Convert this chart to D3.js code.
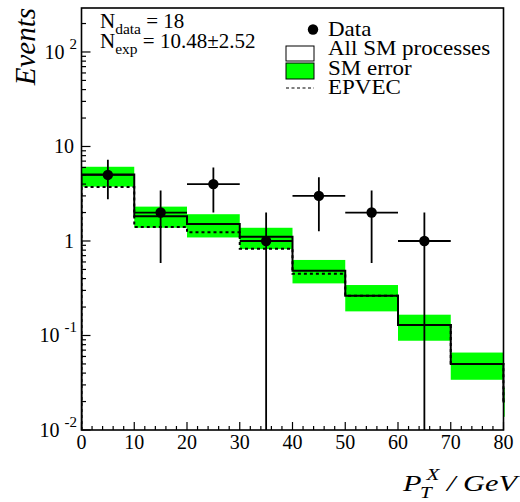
<!DOCTYPE html>
<html>
<head>
<meta charset="utf-8">
<script src="https://cdn.jsdelivr.net/npm/d3@7"></script>
<style>
  html, body { margin: 0; padding: 0; background: #fff; }
  svg { display: block; }
  text { font-family: "Liberation Serif", "Times New Roman", serif; fill: #000; }
</style>
</head>
<body>
<div id="chart"></div>
<script>
// ---- data ----
const binEdges     = [0, 10, 20, 30, 40, 50, 60, 70, 80, 90];
const smValues     = [5.05, 1.83, 1.51, 1.11, 0.485, 0.264, 0.129, 0.050, 0.020];
const smErrLow     = [3.76, 1.38, 1.09, 0.82, 0.356, 0.180, 0.088, 0.034, 0.0138];
const smErrHigh    = [6.10, 2.31, 1.92, 1.38, 0.630, 0.342, 0.166, 0.066, 0.028];
const epvecValues  = [3.72, 1.41, 1.24, 0.83, 0.450, 0.264, 0.129, 0.050, 0.020];
const dataX        = [5, 15, 25, 35, 45, 55, 65];
const dataY        = [5, 2, 4, 1, 3, 2, 1];
const dataXErr     = [5, 5, 5, 5, 5, 5, 5];
const xTickValues  = [0, 10, 20, 30, 40, 50, 60, 70, 80];
const yMajorTicks  = [0.01, 0.1, 1, 10, 100];
const yTickLabels  = [["10", "-2"], ["10", "-1"], ["1", ""], ["10", ""], ["10", "2"]];
const legendLabels = ["Data", "All SM processes", "SM error", "EPVEC"];
const infoLines    = [["N", "data", " = 18"], ["N", "exp", " = 10.48\u00B12.52"]];

const W = 520, H = 502;
const L = 81.5, R = 503.5, T = 8, B = 430;
const xDomain = [0, 80], yDomain = [0.01, 292];

const svg = d3.select("#chart").append("svg").attr("width", W).attr("height", H);
const x = d3.scaleLinear().domain(xDomain).range([L, R]);
const y = d3.scaleLog().domain(yDomain).range([B, T]);

svg.append("defs").append("clipPath").attr("id", "frameClip")
  .append("rect").attr("x", L).attr("y", T).attr("width", R - L + 1.2).attr("height", B - T);

const plot = svg.append("g").attr("clip-path", "url(#frameClip)");
const nb = smValues.length;
const bins = d3.range(nb).map(i => ({
  x0: binEdges[i], x1: binEdges[i + 1],
  v: smValues[i], lo: smErrLow[i], hi: smErrHigh[i], ep: epvecValues[i]
}));

// SM error band
plot.selectAll("rect.band").data(bins).join("rect")
  .attr("class", "band")
  .attr("x", d => x(d.x0)).attr("width", d => x(d.x1) - x(d.x0))
  .attr("y", d => y(d.hi)).attr("height", d => y(d.lo) - y(d.hi))
  .attr("fill", "#00ff00");

// step path builder
function stepPath(vals) {
  const p = d3.path();
  p.moveTo(x(binEdges[0]), B);
  vals.forEach((v, i) => {
    p.lineTo(x(binEdges[i]), y(v));
    p.lineTo(x(binEdges[i + 1]), y(v));
  });
  p.lineTo(x(binEdges[vals.length]), B);
  return p.toString();
}

// EPVEC dashed
plot.append("path").attr("d", stepPath(epvecValues))
  .attr("fill", "none").attr("stroke", "#000").attr("stroke-width", 2)
  .attr("stroke-dasharray", "3,3");

// All SM
plot.append("path").attr("d", stepPath(smValues))
  .attr("fill", "none").attr("stroke", "#000").attr("stroke-width", 2);

// Data points with errors
const pts = dataX.map((d, i) => ({ x: d, y: dataY[i], ex: dataXErr[i], ey: Math.sqrt(dataY[i]) }));
const dg = plot.append("g");
dg.selectAll("line.h").data(pts).join("line")
  .attr("x1", d => x(d.x - d.ex)).attr("x2", d => x(d.x + d.ex))
  .attr("y1", d => y(d.y)).attr("y2", d => y(d.y))
  .attr("stroke", "#000").attr("stroke-width", 1.8);
dg.selectAll("line.v").data(pts).join("line")
  .attr("x1", d => x(d.x)).attr("x2", d => x(d.x))
  .attr("y1", d => y(d.y + d.ey))
  .attr("y2", d => (d.y - d.ey) > yDomain[0] ? y(d.y - d.ey) : B)
  .attr("stroke", "#000").attr("stroke-width", 1.8);
dg.selectAll("circle").data(pts).join("circle")
  .attr("cx", d => x(d.x)).attr("cy", d => y(d.y)).attr("r", 5.2).attr("fill", "#000");

// Frame
svg.append("rect").attr("x", L).attr("y", T).attr("width", R - L).attr("height", B - T)
  .attr("fill", "none").attr("stroke", "#000").attr("stroke-width", 1.6);

// X axis ticks (inside)
const xMinor = d3.range(0, 81, 2);
svg.append("g").selectAll("line").data(xMinor).join("line")
  .attr("x1", d => x(d)).attr("x2", d => x(d))
  .attr("y1", B).attr("y2", d => B - (d % 10 === 0 ? 8 : 4))
  .attr("stroke", "#000").attr("stroke-width", 1.2);
svg.append("g").selectAll("text").data(xTickValues).join("text")
  .attr("x", d => x(d)).attr("y", 449).attr("text-anchor", "middle")
  .attr("font-size", 20).text(d => d);

// Y axis ticks (inside)
const yMinor = [];
for (let e = -2; e <= 2; e++) for (let m = 1; m <= 9; m++) {
  const v = m * Math.pow(10, e);
  if (v >= yDomain[0] && v <= yDomain[1]) yMinor.push({ v, major: m === 1 });
}
svg.append("g").selectAll("line").data(yMinor).join("line")
  .attr("x1", L).attr("x2", d => L + (d.major ? 9 : 4.5))
  .attr("y1", d => y(d.v)).attr("y2", d => y(d.v))
  .attr("stroke", "#000").attr("stroke-width", 1.2);

const ylab = svg.append("g").selectAll("text").data(yMajorTicks).join("text")
  .attr("x", (d, i) => yTickLabels[i][1] ? 77 : 74)
  .attr("y", d => y(d) + 7).attr("text-anchor", "end").attr("font-size", 20);
ylab.append("tspan").text((d, i) => yTickLabels[i][0]);
ylab.append("tspan").attr("font-size", 15).attr("dx", (d, i) => yTickLabels[i][1] ? 5 : 0)
  .attr("dy", -10).text((d, i) => yTickLabels[i][1]);

// Axis titles
svg.append("text").attr("transform", `translate(35,${T}) rotate(-90)`)
  .attr("text-anchor", "end").attr("font-size", 29).attr("font-style", "italic")
  .text("Events");

const xt = svg.append("g").attr("transform", "translate(517,491) scale(1.32,1)")
  .append("text").attr("x", 0).attr("y", 0).attr("text-anchor", "end")
  .attr("font-size", 23).attr("font-style", "italic");
xt.append("tspan").text("P");
xt.append("tspan").attr("font-size", 16).attr("dx", -1).attr("dy", 7).text("T");
xt.append("tspan").attr("font-size", 16).attr("dx", -4).attr("dy", -18).text("X");
xt.append("tspan").attr("dy", 11).text(" / GeV");

// Info text
infoLines.forEach((ln, i) => {
  const t = svg.append("text").attr("x", 100).attr("y", 28 + i * 19.5).attr("font-size", 21);
  t.append("tspan").text(ln[0]);
  t.append("tspan").attr("font-size", 15.5).attr("dy", 6).text(ln[1]);
  t.append("tspan").attr("dy", -6).text(ln[2]);
});

// Legend
const lg = svg.append("g");
const rowY = [29.5, 49, 68.5, 88];
lg.append("circle").attr("cx", 313).attr("cy", rowY[0]).attr("r", 5.2).attr("fill", "#000");
lg.append("rect").attr("x", 286).attr("y", 46).attr("width", 28).attr("height", 15)
  .attr("fill", "#fff").attr("stroke", "#000").attr("stroke-width", 1);
lg.append("rect").attr("x", 286).attr("y", 63).attr("width", 28).attr("height", 16)
  .attr("fill", "#00ff00").attr("stroke", "#000").attr("stroke-width", 1);
lg.append("line").attr("x1", 286).attr("x2", 314).attr("y1", rowY[3]).attr("y2", rowY[3])
  .attr("stroke", "#000").attr("stroke-width", 1.2).attr("stroke-dasharray", "3,2.5");
lg.selectAll("g.lt").data(legendLabels).join("g").attr("class", "lt")
  .attr("transform", (d, i) => `translate(328,${rowY[i] + 6}) scale(1.15,1)`)
  .append("text").attr("x", 0).attr("y", 0).attr("font-size", 20).text(d => d);
</script>
</body>
</html>
